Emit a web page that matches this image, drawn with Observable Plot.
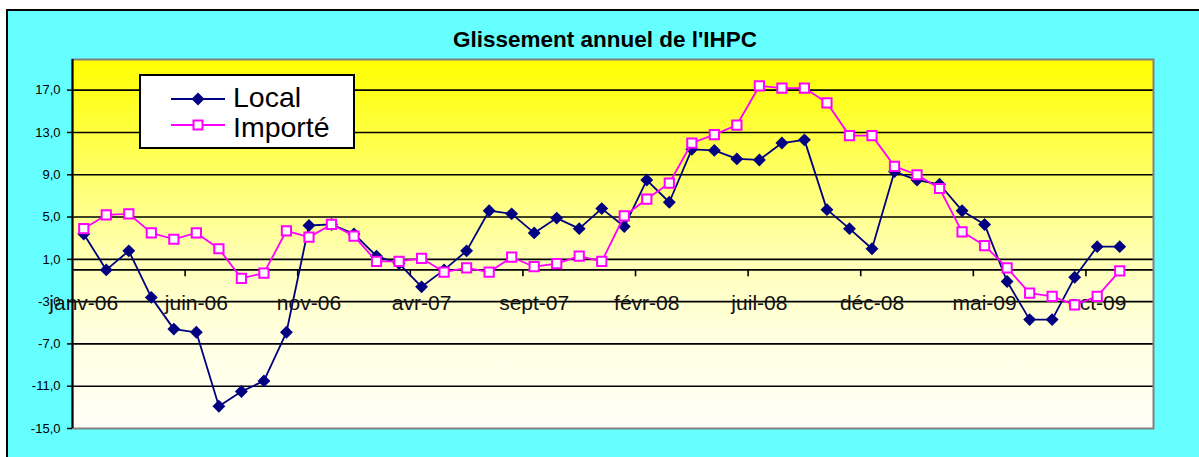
<!DOCTYPE html>
<html>
<head>
<meta charset="utf-8">
<script src="https://cdn.jsdelivr.net/npm/d3@7"></script>
<script src="https://cdn.jsdelivr.net/npm/@observablehq/plot@0.6"></script>
<style>
html, body { margin: 0; padding: 0; background: #fff; width: 1199px; height: 457px; overflow: hidden; font-family: "Liberation Sans", Arial, sans-serif; }
#bg { position: absolute; left: 6px; top: 9px; right: 0; bottom: 0; background: #66FFFF; border-left: 2px solid #000; border-top: 2px solid #000; }
#chart { position: absolute; left: 0; top: 0; }
#title { position: absolute; left: 0; width: 1210px; top: 29px; line-height: 22px; text-align: center; font-weight: bold; font-size: 22.5px; color: #000; white-space: nowrap; }
#legend { position: absolute; left: 139px; top: 74px; width: 212px; height: 71px; border: 2px solid #000; background: #fff; }
#legend svg { position: absolute; left: 0; top: 0; }
#legend .lab { position: absolute; left: 92px; font-size: 28.5px; line-height: 28px; color: #000; white-space: nowrap; }
</style>
</head>
<body>
<div id="bg"></div>
<div id="chart"></div>
<div id="title">Glissement annuel de l'IHPC</div>
<div id="legend">
  <svg width="212" height="71">
    <line x1="30" y1="23" x2="84" y2="23" stroke="#000080" stroke-width="2"></line>
    <path d="M57,16.5L63.5,23L57,29.5L50.5,23Z" fill="#000080"></path>
    <line x1="30" y1="49" x2="84" y2="49" stroke="#FF00FF" stroke-width="2"></line>
    <rect x="52.5" y="44.5" width="9" height="9" fill="#fff" stroke="#FF00FF" stroke-width="2"></rect>
  </svg>
  <div class="lab" style="top:7px">Local</div>
  <div class="lab" style="top:37px">Importé</div>
</div>
<script>
// Categories (monthly, janv-06 .. déc-09; last slot empty)
const months = [
  "janv-06","févr-06","mars-06","avr-06","mai-06","juin-06","juil-06","août-06","sept-06","oct-06","nov-06","déc-06",
  "janv-07","févr-07","mars-07","avr-07","mai-07","juin-07","juil-07","août-07","sept-07","oct-07","nov-07","déc-07",
  "janv-08","févr-08","mars-08","avr-08","mai-08","juin-08","juil-08","août-08","sept-08","oct-08","nov-08","déc-08",
  "janv-09","févr-09","mars-09","avr-09","mai-09","juin-09","juil-09","août-09","sept-09","oct-09","nov-09","déc-09"
];

// Series values (annual change, %)
const local = [3.4, 0.0, 1.8, -2.6, -5.6, -5.9, -12.9, -11.5, -10.5, -5.9, 4.2, 4.3,
  3.4, 1.3, 0.6, -1.6, 0.0, 1.8, 5.6, 5.3, 3.5, 4.9, 3.9, 5.8,
  4.1, 8.5, 6.4, 11.4, 11.3, 10.5, 10.4, 12.0, 12.3, 5.7, 3.9, 2.0,
  9.3, 8.5, 8.1, 5.6, 4.3, -1.1, -4.7, -4.7, -0.7, 2.2, 2.2];
const importe = [3.9, 5.2, 5.3, 3.5, 2.9, 3.5, 2.0, -0.8, -0.3, 3.7, 3.1, 4.3,
  3.2, 0.8, 0.8, 1.1, -0.2, 0.2, -0.2, 1.2, 0.3, 0.6, 1.3, 0.8,
  5.1, 6.7, 8.2, 12.0, 12.8, 13.7, 17.4, 17.2, 17.2, 15.8, 12.7, 12.7,
  9.8, 9.0, 7.7, 3.6, 2.3, 0.2, -2.2, -2.5, -3.3, -2.5, -0.1];

// Tick labels
const yTicks = [-15, -11, -7, -3, 1, 5, 9, 13, 17];
const xTickLabels = ["janv-06","juin-06","nov-06","avr-07","sept-07","févr-08","juil-08","déc-08","mai-09","oct-09"];

const localData = local.map((v, i) => ({i, month: months[i], v}));
const importeData = importe.map((v, i) => ({i, month: months[i], v}));
const xLabelData = xTickLabels.map(m => ({i: months.indexOf(m), label: m}));
const xTickBounds = xLabelData.filter(d => d.i > 0).map(d => d.i - 0.5);
const fmt = d => d.toFixed(1).replace(".", ",");

const plot = Plot.plot({
  width: 1199,
  height: 457,
  marginLeft: 72,
  marginRight: 46,
  marginTop: 59,
  marginBottom: 29,
  style: {background: "transparent", fontFamily: "'Liberation Sans', Arial, sans-serif", overflow: "visible"},
  x: {domain: [-0.5, months.length - 0.5], axis: null, label: null},
  y: {domain: [-15, 19.9], axis: null, label: null},
  marks: [
    Plot.frame({fill: "url(#bgGrad)", stroke: "none"}),
    Plot.ruleY(yTicks.filter(t => t > -15), {stroke: "#000", strokeWidth: 1.6}),
    Plot.ruleY([0], {stroke: "#000", strokeWidth: 1.6}),
    Plot.ruleX(xTickBounds, {x: d => d, y1: 0, y2: -0.65, stroke: "#000", strokeWidth: 1.6}),
    Plot.frame({stroke: "#808080", strokeWidth: 2}),
    Plot.ruleX([-0.5], {stroke: "#000", strokeWidth: 2}),
    Plot.axisY(yTicks, {label: null, tickFormat: fmt, tickSize: 5, tickPadding: 7, fontSize: 13, stroke: "#000", strokeWidth: 1.5, fill: "#000"}),
    Plot.text(xLabelData, {x: "i", y: () => 0, dy: 33, text: "label", fontSize: 21, fill: "#111", lineAnchor: "middle"}),
    Plot.line(localData, {x: "i", y: "v", stroke: "#000080", strokeWidth: 1.8}),
    Plot.dot(localData, {x: "i", y: "v", symbol: "diamond2", r: 5.8, fill: "#000080", stroke: "none"}),
    Plot.line(importeData, {x: "i", y: "v", stroke: "#FF00FF", strokeWidth: 1.8}),
    Plot.dot(importeData, {x: "i", y: "v", symbol: "square", r: 5.2, fill: "#fff", stroke: "#FF00FF", strokeWidth: 2})
  ]
});

const svg = plot.tagName.toLowerCase() === "svg" ? plot : plot.querySelector("svg");
const ns = "http://www.w3.org/2000/svg";
const defs = document.createElementNS(ns, "defs");
const lg = document.createElementNS(ns, "linearGradient");
lg.setAttribute("id", "bgGrad");
lg.setAttribute("x1", "0"); lg.setAttribute("y1", "0");
lg.setAttribute("x2", "0"); lg.setAttribute("y2", "1");
[[0, "#FFFF00"], [0.2, "#FFFF40"], [0.4, "#FFFF88"], [0.55, "#FFFFB8"], [0.75, "#FFFFE0"], [1, "#FFFFF8"]].forEach(([o, c]) => {
  const s = document.createElementNS(ns, "stop");
  s.setAttribute("offset", o);
  s.setAttribute("stop-color", c);
  lg.appendChild(s);
});
defs.appendChild(lg);
svg.insertBefore(defs, svg.firstChild);
document.getElementById("chart").appendChild(plot);
</script>
</body>
</html>
